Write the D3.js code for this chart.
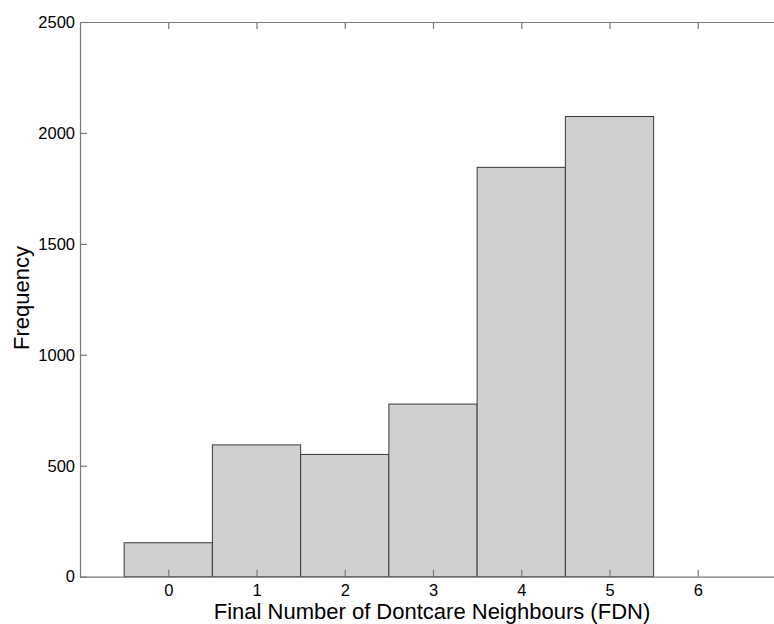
<!DOCTYPE html>
<html><head><meta charset="utf-8">
<script src="https://cdn.jsdelivr.net/npm/d3@7"></script>
<style>body{margin:0;background:#fff;} svg{display:block;}</style>
</head><body>
<svg id="c" width="774" height="624"></svg>
<script>
const categories = [0, 1, 2, 3, 4, 5];
const frequencies = [153, 594, 551, 778, 1845, 2074];
const xTickLabels = [0, 1, 2, 3, 4, 5, 6];
const xTopTicks = [0, 1, 2, 3, 4, 5, 6, 7];
const yTicks = [0, 500, 1000, 1500, 2000, 2500];

const svg = d3.select("#c");
const L = 80, T = 22, B = 576.7, R = 786;
const x = d3.scaleLinear().domain([-1, 7]).range([L, R]);
const y = d3.scaleLinear().domain([0, 2500]).range([B, T]);
const axisCol = "#7a7a7a";
const font = "Liberation Sans, Arial, sans-serif";

// bars
svg.append("g").selectAll("rect").data(categories).join("rect")
  .attr("x", d => x(d - 0.5))
  .attr("y", (d, i) => y(frequencies[i]))
  .attr("width", d => x(d + 0.5) - x(d - 0.5))
  .attr("height", (d, i) => y(0) - y(frequencies[i]))
  .attr("fill", "#d0d0d0")
  .attr("stroke", "#3a3a3a")
  .attr("stroke-width", 1);

// axes
const gx = svg.append("g").attr("transform", `translate(0,${B})`)
  .call(d3.axisBottom(x).tickValues(xTickLabels).tickFormat(d3.format("d")).tickSizeInner(-7).tickSizeOuter(0).tickPadding(8));
gx.select(".domain").attr("d", `M${L},0.5H${R}`);
const gxt = svg.append("g").attr("transform", `translate(0,${T})`)
  .call(d3.axisTop(x).tickValues(xTopTicks).tickFormat("").tickSizeInner(-7).tickSizeOuter(0));
const gy = svg.append("g").attr("transform", `translate(${L},0)`)
  .call(d3.axisLeft(y).tickValues(yTicks).tickFormat(d3.format("d")).tickSizeInner(-7).tickSizeOuter(0).tickPadding(5));
[gx, gxt, gy].forEach(g => {
  g.attr("font-family", font).attr("font-size", 16.5);
  g.select(".domain").attr("stroke", axisCol).attr("stroke-width", 1.2);
  g.selectAll(".tick line").attr("stroke", axisCol).attr("stroke-width", 1.2);
  g.selectAll(".tick text").attr("fill", "#000");
});

svg.append("text").attr("x", 432).attr("y", 619).attr("text-anchor", "middle")
  .attr("font-family", font).attr("font-size", 22).text("Final Number of Dontcare Neighbours (FDN)");
svg.append("text").attr("transform", "translate(29,298) rotate(-90)").attr("text-anchor", "middle")
  .attr("font-family", font).attr("font-size", 22).text("Frequency");
</script>
</body></html>
